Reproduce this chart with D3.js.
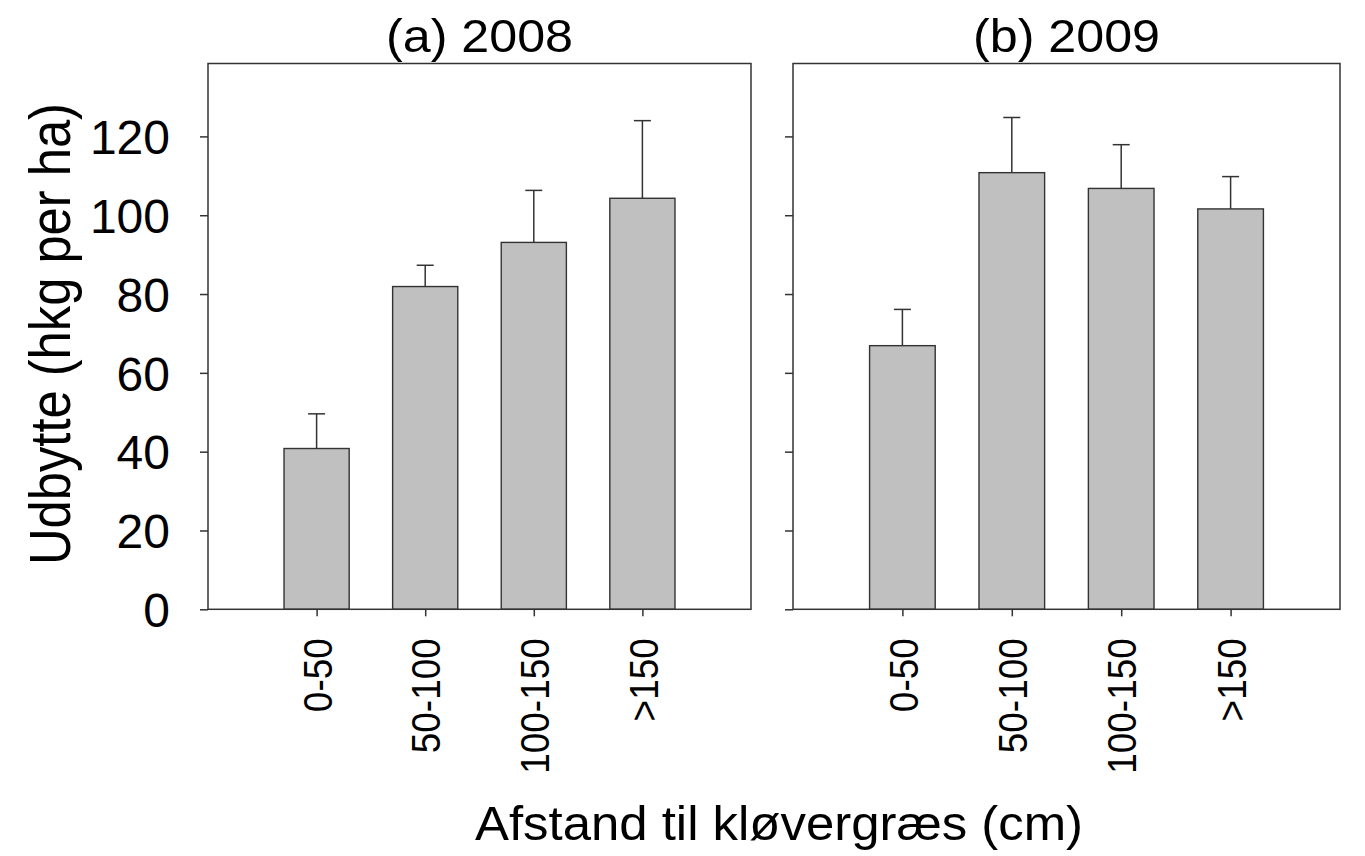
<!DOCTYPE html>
<html>
<head>
<meta charset="utf-8">
<script src="https://cdn.jsdelivr.net/npm/d3@7"></script>
<style>
  html, body { margin: 0; padding: 0; background: #fff; }
  svg { display: block; }
  text { font-family: "Liberation Sans", Arial, sans-serif; fill: #000; }
</style>
</head>
<body>
<svg id="chart" width="1365" height="856"></svg>
<script>
// ---- data ----
const categories = ["0-50", "50-100", "100-150", ">150"];
const panelTitles = ["(a) 2008", "(b) 2009"];
const means2008 = [40.8, 81.9, 93.1, 104.3];
const errors2008 = [8.8, 5.4, 13.2, 19.7];
const means2009 = [66.9, 110.8, 106.8, 101.6];
const errors2009 = [9.2, 14.0, 11.1, 8.2];
const yTicks = [0, 20, 40, 60, 80, 100, 120];
const yLabel = "Udbytte (hkg per ha)";
const xLabel = "Afstand til kløvergræs (cm)";

(function draw() {
  const panels = [
    { title: panelTitles[0], means: means2008, errors: errors2008, left: 208, right: 751, labels: true },
    { title: panelTitles[1], means: means2009, errors: errors2009, left: 793, right: 1340, labels: false }
  ];

  const svg = d3.select("#chart");
  const plotTop = 63.5, plotBottom = 609.3;
  const stroke = "#333";

  const y = d3.scaleLinear().domain([0, 138.5]).range([plotBottom, plotTop]);

  panels.forEach(p => {
    const x = d3.scaleLinear().domain([0, 5]).range([p.left, p.right]);
    const g = svg.append("g");
    const barW = x(0.6) - x(0);
    const capW = 17;

    // bars
    g.selectAll("rect.bar").data(p.means).enter().append("rect")
      .attr("class", "bar")
      .attr("x", (d, i) => x(i + 1) - barW / 2)
      .attr("width", barW)
      .attr("y", d => y(d))
      .attr("height", d => y(0) - y(d))
      .attr("fill", "#c0c0c0")
      .attr("stroke", stroke)
      .attr("stroke-width", 1.4);

    // error bars (upper only)
    g.selectAll("line.err").data(p.means).enter().append("line")
      .attr("class", "err")
      .attr("x1", (d, i) => x(i + 1)).attr("x2", (d, i) => x(i + 1))
      .attr("y1", d => y(d)).attr("y2", (d, i) => y(d + p.errors[i]))
      .attr("stroke", stroke).attr("stroke-width", 1.5);
    g.selectAll("line.cap").data(p.means).enter().append("line")
      .attr("class", "cap")
      .attr("x1", (d, i) => x(i + 1) - capW / 2).attr("x2", (d, i) => x(i + 1) + capW / 2)
      .attr("y1", (d, i) => y(d + p.errors[i])).attr("y2", (d, i) => y(d + p.errors[i]))
      .attr("stroke", stroke).attr("stroke-width", 1.5);

    // frame
    g.append("rect")
      .attr("x", p.left).attr("y", plotTop)
      .attr("width", p.right - p.left).attr("height", plotBottom - plotTop)
      .attr("fill", "none").attr("stroke", stroke).attr("stroke-width", 1.5);

    // y axis
    const yAxis = d3.axisLeft(y).tickValues(yTicks).tickSize(8).tickPadding(30)
      .tickFormat(p.labels ? d3.format("d") : () => "");
    const ya = g.append("g").attr("transform", `translate(${p.left},0)`).call(yAxis);
    ya.select(".domain").remove();
    ya.selectAll(".tick line").attr("stroke", stroke).attr("stroke-width", 1.5);
    ya.selectAll(".tick text").attr("font-size", 48).attr("dy", "0.36em")
      .style("font-family", "'Liberation Sans', Arial, sans-serif").attr("fill", "#000");

    // x axis
    const xAxis = d3.axisBottom(x).tickValues([1, 2, 3, 4]).tickSize(7)
      .tickFormat((d) => categories[d - 1]);
    const xa = g.append("g").attr("transform", `translate(0,${plotBottom})`).call(xAxis);
    xa.select(".domain").remove();
    xa.selectAll(".tick line").attr("stroke", stroke).attr("stroke-width", 1.5);
    xa.selectAll(".tick text")
      .attr("font-size", 41)
      .style("font-family", "'Liberation Sans', Arial, sans-serif")
      .attr("fill", "#000")
      .attr("text-anchor", "end")
      .attr("transform", "rotate(-90)")
      .attr("x", -29).attr("y", 0).attr("dy", "0.36em")
      .each(function() {
        const len = this.getComputedTextLength();
        d3.select(this).attr("textLength", len * 0.9).attr("lengthAdjust", "spacingAndGlyphs");
      });

    // panel title
    svg.append("text")
      .attr("x", (p.left + p.right) / 2).attr("y", 52)
      .attr("text-anchor", "middle").attr("font-size", 47)
      .attr("textLength", 187).attr("lengthAdjust", "spacingAndGlyphs")
      .text(p.title);
  });

  // axis titles
  svg.append("text")
    .attr("transform", "translate(70,334) rotate(-90)")
    .attr("text-anchor", "middle").attr("font-size", 58)
    .attr("textLength", 462).attr("lengthAdjust", "spacingAndGlyphs")
    .text(yLabel);

  svg.append("text")
    .attr("x", 779).attr("y", 840)
    .attr("text-anchor", "middle").attr("font-size", 49)
    .attr("textLength", 608).attr("lengthAdjust", "spacingAndGlyphs")
    .text(xLabel);
})();
</script>
</body>
</html>
